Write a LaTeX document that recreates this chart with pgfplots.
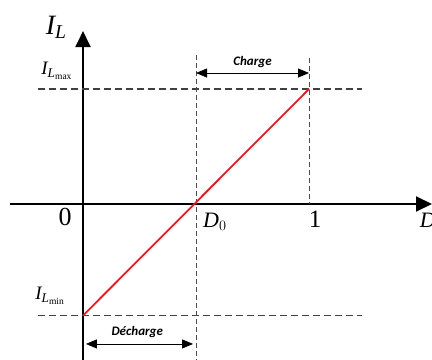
\documentclass[border=0pt]{standalone}
\usepackage{fontspec}
\setmainfont{Liberation Serif}
\newfontfamily\tagfont{Carlito}
\usepackage{amsmath}
\usepackage{pgfplots}
\pgfplotsset{compat=1.18}
\usetikzlibrary{arrows.meta}

% Inductor current versus duty cycle
\newcommand{\sz}[1]{\fontsize{#1}{#1}\selectfont}

\begin{document}
\begin{tikzpicture}
\path[use as bounding box] (0,0) rectangle (432bp,360bp);
\begin{axis}[
  scale only axis, width=432bp, height=360bp,
  at={(0,0)}, anchor=south west,
  axis lines=none,
  xmin=-0.3673, xmax=1.5442, ymin=-1.3565, ymax=1.7739,
  clip=false]

% axes with arrows
\draw[line width=2bp, -{Triangle[length=16bp,width=15bp]}] (axis cs:-0.323,0) -- (axis cs:1.5442,0);
\draw[line width=2bp, -{Triangle[length=16bp,width=15bp]}] (axis cs:0,-1.3565) -- (axis cs:0,1.504);

% limit levels
\draw[line width=1.4bp, black!75, dash pattern=on 7bp off 4bp] (axis cs:-0.199,1) -- (axis cs:1.235,1);
\draw[line width=1.4bp, black!75, dash pattern=on 7bp off 4bp] (axis cs:-0.199,-0.97) -- (axis cs:1.235,-0.97);
\draw[line width=0.6bp, black!70, dash pattern=on 5bp off 3bp] (axis cs:0.5,1.296) -- (axis cs:0.5,-1.3565);
\draw[line width=0.6bp, black!70, dash pattern=on 5bp off 3bp] (axis cs:1,1.27) -- (axis cs:1,0);

% current ramp
\addplot[color={rgb,255:red,225;green,30;blue,35}, line width=1.8bp] coordinates {(0,-0.97) (1,1)};

% charge / discharge intervals
\draw[line width=0.8bp, {Triangle[length=11bp,width=9bp]}-{Triangle[length=11bp,width=9bp]}] (axis cs:0.5,1.139) -- (axis cs:1,1.139);
\node[font=\tagfont\bfseries\itshape\sz{13bp}] at (axis cs:0.75,1.235) {Charge};
\draw[line width=0.8bp, {Triangle[length=11bp,width=9bp]}-{Triangle[length=11bp,width=9bp]}] (axis cs:0.013,-1.217) -- (axis cs:0.487,-1.217);
\node[font=\tagfont\bfseries\itshape\sz{13bp}] at (axis cs:0.24,-1.113) {Décharge};

% labels
\node[font=\sz{28bp}] at (axis cs:-0.119,1.539) {$\textit{I}_{\textit{L}}$};
\node[font=\sz{19bp}, anchor=west, inner sep=0pt] at (axis cs:-0.185,1.16) {$\textit{I}_{\textit{L}_{\text{max}}}$};
\node[font=\sz{19bp}, anchor=west, inner sep=0pt] at (axis cs:-0.212,-0.80) {$\textit{I}_{\textit{L}_{\text{min}}}$};
\node[font=\sz{26bp}] at (axis cs:-0.0796,-0.113) {0};
\node[font=\sz{25bp}] at (axis cs:1.027,-0.13) {1};
\node[font=\sz{22bp}, anchor=west, inner sep=0pt] at (axis cs:0.531,-0.157) {$\textit{D}_{0}$};
\node[font=\sz{22bp}, anchor=west, inner sep=0pt] at (axis cs:1.49,-0.14) {\textit{D}};
\end{axis}
\end{tikzpicture}
\end{document}
